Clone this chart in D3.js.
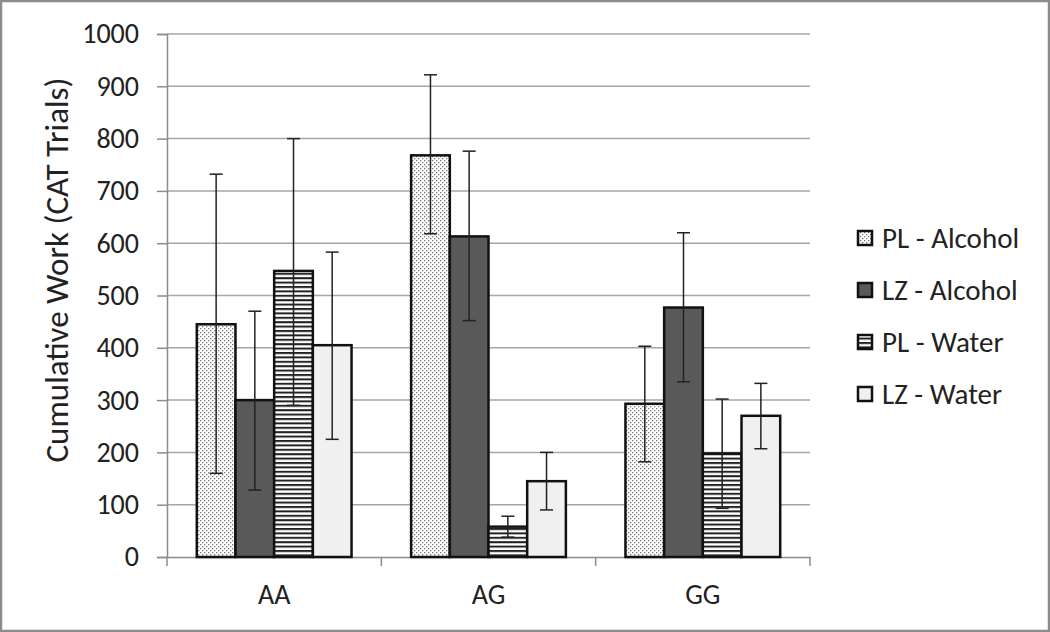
<!DOCTYPE html>
<html>
<head>
<meta charset="utf-8">
<script src="https://cdn.jsdelivr.net/npm/d3@7"></script>
<style>
  body { margin: 0; background: #fff; }
  text { font-family: Carlito, "Open Sans", "Liberation Sans", sans-serif; fill: #222; }
</style>
</head>
<body>
<div id="chart"></div>
<script>
var genotypes = ["AA", "AG", "GG"];
var groups = ["PL - Alcohol", "LZ - Alcohol", "PL - Water", "LZ - Water"];
var plAlcohol = [445, 768, 293];
var lzAlcohol = [300, 613, 477];
var plWater = [547, 58, 198];
var lzWater = [405, 145, 270];
// error bar ends
var plAlcoholLo = [160, 618, 182], plAlcoholHi = [732, 922, 403];
var lzAlcoholLo = [128, 452, 335], lzAlcoholHi = [470, 776, 620];
var plWaterLo = [290, 38, 93], plWaterHi = [800, 78, 302];
var lzWaterLo = [225, 90, 207], lzWaterHi = [583, 200, 332];
var yTicks = [0, 100, 200, 300, 400, 500, 600, 700, 800, 900, 1000];

var values = [plAlcohol, lzAlcohol, plWater, lzWater];
var lows = [plAlcoholLo, lzAlcoholLo, plWaterLo, lzWaterLo];
var highs = [plAlcoholHi, lzAlcoholHi, plWaterHi, lzWaterHi];
var fills = ["url(#dots)", "#595959", "url(#stripes)", "#f0f0f0"];

var W = 1050, H = 632;
var pLeft = 167, pRight = 810, pTop = 34, pBottom = 557;

var svg = d3.select("#chart").append("svg")
    .attr("width", W).attr("height", H);

var defs = svg.append("defs");
var dots = defs.append("pattern").attr("id", "dots")
    .attr("patternUnits", "userSpaceOnUse").attr("width", 4).attr("height", 4);
dots.append("rect").attr("width", 4).attr("height", 4).attr("fill", "#fff");
dots.append("rect").attr("x", 0).attr("y", 0).attr("width", 1.3).attr("height", 1.3).attr("fill", "#777");
dots.append("rect").attr("x", 2).attr("y", 2).attr("width", 1.3).attr("height", 1.3).attr("fill", "#777");

var stripes = defs.append("pattern").attr("id", "stripes")
    .attr("patternUnits", "userSpaceOnUse").attr("width", 8).attr("height", 4.4);
stripes.append("rect").attr("width", 8).attr("height", 4.4).attr("fill", "#fff");
stripes.append("rect").attr("y", 0).attr("width", 8).attr("height", 2).attr("fill", "#222");

// outer frame
svg.append("rect").attr("x", 1).attr("y", 1).attr("width", W - 2).attr("height", H - 2)
    .attr("fill", "none").attr("stroke", "#8c8c8c").attr("stroke-width", 2.5);

var x = d3.scaleBand().domain(genotypes).range([pLeft, pRight]);
var xs = d3.scaleBand().domain(d3.range(4)).range([0, x.bandwidth()]).paddingOuter(0.77).paddingInner(0);
var y = d3.scaleLinear().domain([0, 1000]).range([pBottom, pTop]);

// grid
svg.append("g").selectAll("line").data(yTicks.slice(1)).enter().append("line")
    .attr("x1", pLeft).attr("x2", pRight)
    .attr("y1", function(d) { return y(d); }).attr("y2", function(d) { return y(d); })
    .attr("stroke", "#a6a6a6").attr("stroke-width", 1.5);

// y axis
var yAxis = svg.append("g").attr("transform", "translate(" + pLeft + ",0)")
    .call(d3.axisLeft(y).tickValues(yTicks).tickFormat(d3.format("d")).tickSize(10).tickPadding(18));
yAxis.selectAll("line").attr("stroke", "#8c8c8c").attr("stroke-width", 1.5);
yAxis.select(".domain").attr("stroke", "#8c8c8c").attr("stroke-width", 1.5);
yAxis.selectAll("text").style("font-size", "28px").style("font-family", "Carlito, 'Open Sans', sans-serif").attr("fill", "#222");

// x axis
var xAxis = svg.append("g").attr("transform", "translate(0," + pBottom + ")")
    .call(d3.axisBottom(x).tickSize(0).tickPadding(27));
xAxis.select(".domain").attr("stroke", "#8c8c8c").attr("stroke-width", 1.5);
xAxis.selectAll("text").style("font-size", "28px").style("font-family", "Carlito, 'Open Sans', sans-serif").attr("fill", "#222");
svg.append("g").selectAll("line").data([0, 1, 2, 3]).enter().append("line")
    .attr("x1", function(i) { return pLeft + i * x.step(); })
    .attr("x2", function(i) { return pLeft + i * x.step(); })
    .attr("y1", pBottom).attr("y2", pBottom + 9)
    .attr("stroke", "#8c8c8c").attr("stroke-width", 1.5);

// bars
groups.forEach(function(g, s) {
    var gg = svg.append("g");
    gg.selectAll("rect").data(values[s]).enter().append("rect")
        .attr("x", function(d, i) { return x(genotypes[i]) + xs(s); })
        .attr("y", function(d) { return y(d); })
        .attr("width", xs.bandwidth())
        .attr("height", function(d) { return pBottom - y(d); })
        .attr("fill", fills[s])
        .attr("stroke", "#111").attr("stroke-width", 2.5);
});

// error bars
groups.forEach(function(g, s) {
    var eg = svg.append("g").attr("stroke", "#222").attr("stroke-width", 1.5);
    var cx = function(i) { return x(genotypes[i]) + xs(s) + xs.bandwidth() / 2; };
    eg.selectAll(".v").data(values[s]).enter().append("line")
        .attr("x1", function(d, i) { return cx(i); }).attr("x2", function(d, i) { return cx(i); })
        .attr("y1", function(d, i) { return y(lows[s][i]); })
        .attr("y2", function(d, i) { return y(highs[s][i]); });
    [lows[s], highs[s]].forEach(function(arr) {
        eg.selectAll(null).data(arr).enter().append("line")
            .attr("x1", function(d, i) { return cx(i) - 6.5; }).attr("x2", function(d, i) { return cx(i) + 6.5; })
            .attr("y1", function(d) { return y(d); }).attr("y2", function(d) { return y(d); });
    });
});

// y title
svg.append("text")
    .attr("transform", "translate(68,270) rotate(-90)")
    .attr("text-anchor", "middle")
    .style("font-size", "33px")
    .text("Cumulative Work (CAT Trials)");

// legend
var lg = svg.append("g").selectAll("g").data(groups).enter().append("g")
    .attr("transform", function(d, i) { return "translate(858," + (238 + i * 52) + ")"; });
lg.append("rect").attr("x", 0).attr("y", -7).attr("width", 14).attr("height", 14)
    .attr("fill", function(d, i) { return fills[i]; })
    .attr("stroke", "#111").attr("stroke-width", 2.5);
lg.append("text").attr("x", 24).attr("y", 10)
    .style("font-size", "29px")
    .text(function(d) { return d; });
</script>
</body>
</html>
